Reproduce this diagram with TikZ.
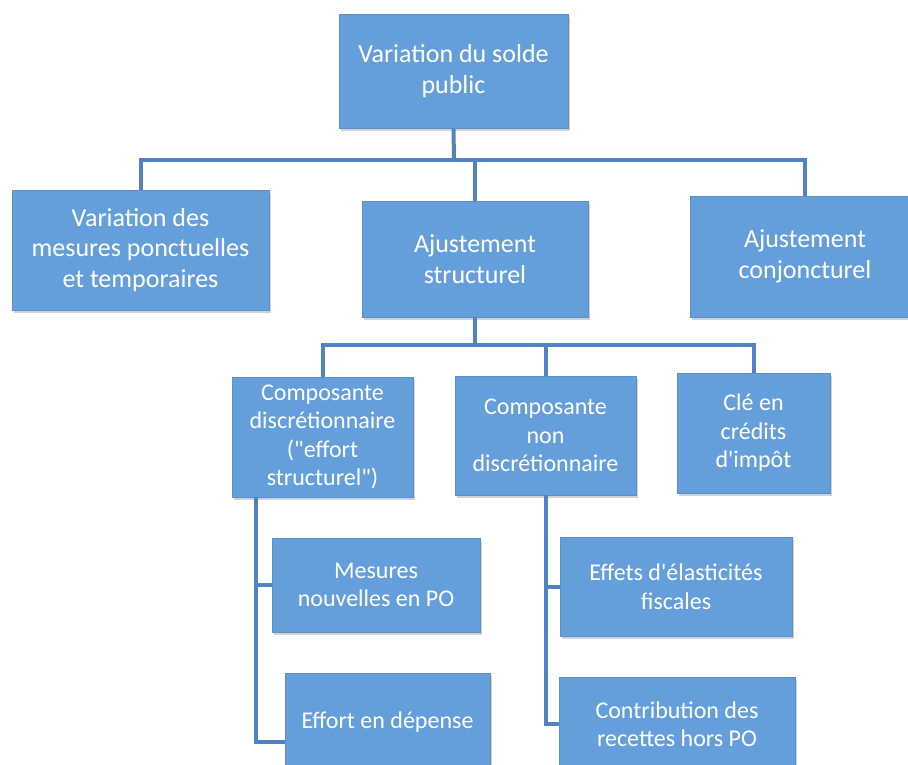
\documentclass[tikz,border=0pt]{standalone}
\usepackage{fontspec}
\setmainfont{Carlito}[Ligatures=TeXOff]
\usetikzlibrary{shadows}
\definecolor{boxfill}{HTML}{659FDB}
\definecolor{boxedge}{HTML}{5A8FCB}
\definecolor{linec}{HTML}{4F83C2}
\newcommand{\sq}{\symbol{39}}
\newcommand{\dq}{\symbol{34}}
\tikzset{
  box/.style={draw=boxedge, line width=0.8pt, fill=boxfill, text=white, align=center,
    inner sep=2pt, drop shadow={opacity=0.35, shadow xshift=1.5pt, shadow yshift=-2.5pt}},
  bigtxt/.style={font=\fontsize{26}{30.5}\selectfont},
  smalltxt/.style={font=\fontsize{24}{28.5}\selectfont},
  conn/.style={draw=linec, line width=4pt}
}
\begin{document}
\begin{tikzpicture}[x=1pt,y=-1pt]
\useasboundingbox (0,0) rectangle (908,764);
\clip (0,0) rectangle (908,764);
\fill[white] (0,0) rectangle (908,764);
\coordinate (j1) at (454,160);
\coordinate (j2) at (475,345);
% boxes
\node[box,bigtxt,minimum width=229pt,minimum height=114pt] (top) at (453.5,71) {Variation du solde\\public};
\node[box,bigtxt,minimum width=257pt,minimum height=120pt] (ponct) at (140.5,250) {Variation des\\mesures ponctuelles\\et temporaires};
\node[box,bigtxt,minimum width=226pt,minimum height=116pt] (struct) at (475,259) {Ajustement\\structurel};
\node[box,bigtxt,minimum width=230pt,minimum height=121pt] (conj) at (805,256.5) {Ajustement\\conjoncturel};
\node[box,smalltxt,minimum width=181pt,minimum height=120pt] (disc) at (322.5,437) {Composante\\discrétionnaire\\(\dq effort\\structurel\dq)};
\node[box,smalltxt,minimum width=181pt,minimum height=119pt] (nondisc) at (545.5,435.5) {Composante\\non\\discrétionnaire};
\node[box,smalltxt,minimum width=153pt,minimum height=120pt] (cle) at (753.5,433) {Clé en\\crédits\\d\sq impôt};
\node[box,smalltxt,minimum width=208pt,minimum height=94pt] (mesures) at (376,585) {Mesures\\nouvelles en PO};
\node[box,smalltxt,minimum width=205pt,minimum height=98pt] (effort) at (387.5,722) {Effort en dépense};
\node[box,smalltxt,minimum width=232pt,minimum height=99pt] (effets) at (676,586.5) {Effets d\sq élasticités\\fiscales};
\node[box,smalltxt,minimum width=236pt,minimum height=94pt] (contrib) at (677,724) {Contribution des\\recettes hors PO};
% connectors
\draw[conn] (top.south) -- (j1);
\draw[conn] (j1) -| (ponct.north);
\draw[conn] (j1) -| (conj.north);
\draw[conn] (j1) -| (struct.north);
\draw[conn] (struct.south) -- (j2);
\draw[conn] (j2) -| (disc.north);
\draw[conn] (j2) -| (nondisc.north);
\draw[conn] (j2) -| (cle.north);
\draw[conn] ([xshift=-66.5pt]disc.south) |- (mesures.west);
\draw[conn] ([xshift=-66.5pt]disc.south) |- ([yshift=-20pt]effort.west);
\draw[conn] (nondisc.south) |- (effets.west);
\draw[conn] (nondisc.south) |- (contrib.west);
\end{tikzpicture}
\end{document}
